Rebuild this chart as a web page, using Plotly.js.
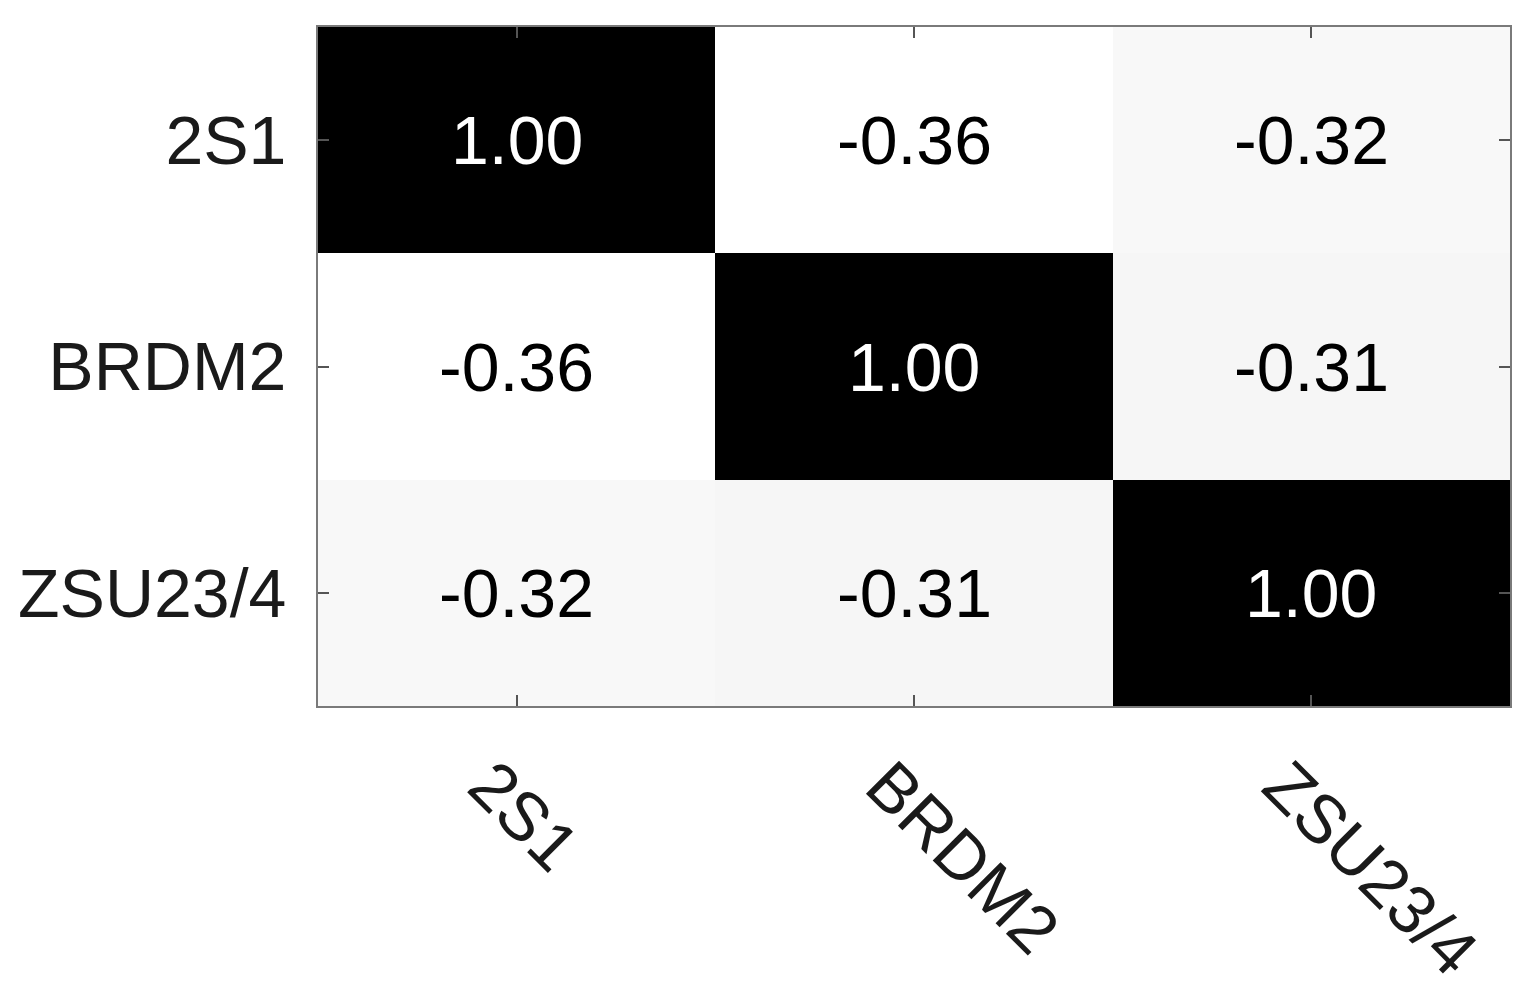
<!DOCTYPE html>
<html>
<head>
<meta charset="utf-8">
<script src="https://cdn.plot.ly/plotly-3.0.1.min.js"></script>
<style>
  html, body { margin: 0; padding: 0; background: #fff; }
  #myDiv { width: 1528px; height: 986px; }
</style>
</head>
<body>
<div id="myDiv"></div>
<script>
// klasser (samma ordning på båda axlarna)
var classes = ['2S1', 'BRDM2', 'ZSU23/4'];

// korrelationsmatris, en rad per klass
var row2S1 = [1.00, -0.36, -0.32];
var rowBRDM2 = [-0.36, 1.00, -0.31];
var rowZSU = [-0.32, -0.31, 1.00];

var zData = [row2S1, rowBRDM2, rowZSU];

var heat = {
  type: 'heatmap',
  x: classes,
  y: classes,
  z: zData,
  zmin: -0.36,
  zmax: 1.00,
  colorscale: [[0, 'rgb(255,255,255)'], [1, 'rgb(0,0,0)']],
  showscale: false,
  hoverinfo: 'skip'
};

// siffrorna i rutorna, vit text på mörka rutor
var notes = [];
for (var i = 0; i < zData.length; i++) {
  for (var j = 0; j < zData[i].length; j++) {
    notes.push({
      x: classes[j], y: classes[i],
      xref: 'x', yref: 'y',
      text: zData[i][j].toFixed(2),
      showarrow: false,
      font: {family: 'Liberation Sans, Arial, sans-serif', size: 68,
             color: zData[i][j] > 0.3 ? '#ffffff' : '#000000'}
    });
  }
}

var axisStyle = {
  showline: true,
  mirror: 'ticks',
  linecolor: '#7a7a7a',
  linewidth: 2,
  ticks: 'inside',
  ticklen: 11,
  tickwidth: 2,
  tickcolor: '#555',
  showgrid: false,
  zeroline: false,
  tickfont: {family: 'Liberation Sans, Arial, sans-serif', size: 68, color: '#1a1a1a'}
};

var layout = {
  width: 1528, height: 986,
  margin: {l: 318, r: 18, t: 27, b: 280},
  paper_bgcolor: '#fff',
  plot_bgcolor: '#fff',
  annotations: notes,
  xaxis: Object.assign({}, axisStyle, {
    tickangle: 45,
    ticklabelstandoff: 10,
    ticklabelshift: -28
  }),
  yaxis: Object.assign({}, axisStyle, {
    autorange: 'reversed',
    ticklabelstandoff: 16
  })
};

Plotly.newPlot('myDiv', [heat], layout, {displayModeBar: false, staticPlot: true});
</script>
</body>
</html>
